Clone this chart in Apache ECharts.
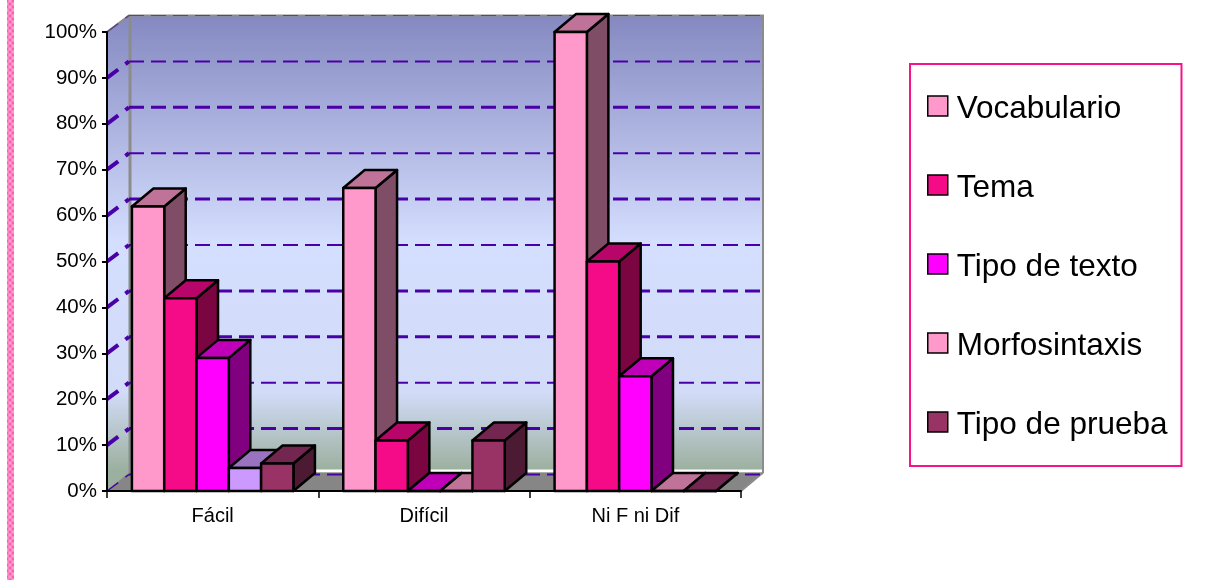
<!DOCTYPE html>
<html>
<head>
<meta charset="utf-8">
<title>Dificultad por aspecto</title>
<style>html,body{margin:0;padding:0;background:#fff}#chart{width:1212px;height:580px}</style>
<script src="https://cdn.jsdelivr.net/npm/echarts@6/dist/echarts.min.js"></script>
</head>
<body>
<div id="chart"></div>
<script>
// Values in percent for each aspect, one per difficulty group
const categories = ['Fácil', 'Difícil', 'Ni F ni Dif'];
const vocabulario = [62, 66, 100];
const tema = [42, 11, 50];
const tipoDeTexto = [29, 0, 25];
const morfosintaxis = [5, 0, 0];
const tipoDePrueba = [6, 11, 0];
const gridValues = [100, 90, 80, 70, 60, 50, 40, 30, 20, 10, 0];
const heavyGridValues = [80, 60, 40, 30, 10];

const FONT = '"Liberation Sans", Arial, sans-serif';
const WALL_DX = 22, WALL_DY = 16.5;   // depth of the chart box
const BAR_W = 32.3, BAR_DX = 21.5, BAR_DY = 18;  // bar front width and extrusion
const SERIES_COUNT = 5;

const faces = {
  pink:    { front: '#ff99cc', top: '#bf7399', side: '#804d66' },
  rose:    { front: '#f50a87', top: '#b8056a', side: '#7a0540' },
  magenta: { front: '#ff00ff', top: '#bf00b8', side: '#800080' },
  lilac:   { front: '#cc99ff', top: '#9973bf', side: '#664d80' },
  wine:    { front: '#993366', top: '#732650', side: '#4d1a33' }
};

const wallFill = {
  type: 'linear', global: true, x: 0, y: 14, x2: 0, y2: 470,
  colorStops: [
    { offset: 0, color: '#8488c0' },
    { offset: 0.5, color: '#d4defe' },
    { offset: 0.83, color: '#d2dcf8' },
    { offset: 1, color: '#9cb09f' }
  ]
};

function poly(points, fill, stroke, width) {
  return {
    type: 'polygon',
    shape: { points },
    style: { fill, stroke: stroke || null, lineWidth: width || 0, lineJoin: 'round' }
  };
}

// Back wall, side wall and floor of the box
function renderBox(params, api) {
  const cs = params.coordSys;
  const x0 = cs.x, x1 = cs.x + cs.width;
  const yTop = api.coord([0, 100])[1], yBase = api.coord([0, 0])[1];
  const bx0 = x0 + WALL_DX, bx1 = x1 + WALL_DX;
  const byTop = yTop - WALL_DY, byBase = yBase - WALL_DY;
  const edge = '#8c8c8c';
  return {
    type: 'group',
    children: [
      poly([[x0, yTop], [bx0, byTop], [bx0, byBase], [x0, yBase]], wallFill),
      poly([[bx0, byTop], [bx1, byTop], [bx1, byBase], [bx0, byBase]], wallFill),
      { type: 'rect', shape: { x: bx0, y: byBase - 5, width: bx1 - bx0, height: 3 }, style: { fill: '#ffffff' } },
      poly([[x0, yBase], [bx0, byBase - 2], [bx1, byBase - 2], [x1, yBase]], '#868686'),
      { type: 'polyline', shape: { points: [[x0, yTop], [bx0, byTop], [bx1, byTop], [bx1, byBase - 2], [x1, yBase]] },
        style: { stroke: edge, lineWidth: 2, fill: null } },
      { type: 'line', shape: { x1: bx0 + 1, y1: byTop, x2: bx0 + 1, y2: byBase }, style: { stroke: edge, lineWidth: 3 } }
    ]
  };
}

// Dashed grid line running along the side wall and across the back wall
function renderGridLine(params, api) {
  const cs = params.coordSys;
  const v = api.value(1);
  const y = api.coord([0, v])[1];
  const x0 = cs.x, x1 = cs.x + cs.width;
  const bx0 = x0 + WALL_DX, bx1 = x1 + WALL_DX, by = y - WALL_DY;
  const heavy = heavyGridValues.indexOf(v) >= 0;
  const edgeLine = v === 0 || v === 100;
  const color = v === 100 ? '#5b3f92' : '#4a00a8';
  return {
    type: 'group',
    children: [
      { type: 'line', shape: { x1: x0, y1: y, x2: bx0, y2: by },
        style: { stroke: color, lineWidth: edgeLine ? 1.5 : 4, lineDash: [14, 9] } },
      { type: 'line', shape: { x1: bx0, y1: by, x2: bx1, y2: by },
        style: { stroke: color, lineWidth: heavy ? 3 : (v === 100 ? 1 : 2), lineDash: [15, 7] } }
    ]
  };
}

// One extruded bar: side and top faces sit behind the front face
function barRenderer(order, palette, overrides) {
  return function (params, api) {
    const c = api.value(0), v = api.value(1);
    const band = api.size([1, 0])[0];
    const center = api.coord([c, 0])[0];
    const left = center - band / 2 + (band - BAR_W * SERIES_COUNT) / 2 + BAR_W * order;
    const right = left + BAR_W;
    const yTop = api.coord([c, v])[1], yBase = api.coord([c, 0])[1];
    const f = (overrides && overrides[params.dataIndex]) || palette;
    const sw = 2.5;
    return {
      type: 'group',
      children: [
        poly([[right, yBase], [right + BAR_DX, yBase - BAR_DY], [right + BAR_DX, yTop - BAR_DY], [right, yTop]], f.side, '#000', sw),
        poly([[left, yTop], [left + BAR_DX, yTop - BAR_DY], [right + BAR_DX, yTop - BAR_DY], [right, yTop]], f.top, '#000', sw),
        poly([[left, yBase], [left, yTop], [right, yTop], [right, yBase]], f.front, '#000', sw)
      ]
    };
  };
}

function barSeries(name, values, order, palette, overrides) {
  return {
    name, type: 'custom', coordinateSystem: 'cartesian2d', z: 4 + order, clip: false, silent: true,
    encode: { x: 0, y: 1 },
    renderItem: barRenderer(order, palette, overrides),
    data: values.map((v, i) => [i, v])
  };
}

// Woven pink texture for the page-edge stripe
function stripePattern() {
  const size = 6, c = document.createElement('canvas');
  c.width = c.height = size;
  const g = c.getContext('2d');
  g.fillStyle = '#ff82c4';
  g.fillRect(0, 0, size, size);
  g.fillStyle = '#ff5cb0';
  g.fillRect(0, 0, 2, 2);
  g.fillRect(3, 3, 2, 2);
  g.fillStyle = '#ff9ed2';
  g.fillRect(3, 0, 2, 2);
  g.fillRect(0, 3, 2, 2);
  return { image: c, repeat: 'repeat' };
}

const legendSwatch = (name, color) => ({ name, itemStyle: { color, borderColor: '#000', borderWidth: 1.5 } });

const option = {
  animation: false,
  backgroundColor: '#ffffff',
  textStyle: { fontFamily: FONT },
  grid: { left: 107, top: 32, width: 634, height: 459 },
  xAxis: {
    type: 'category', data: categories, z: 12,
    axisLine: { lineStyle: { color: '#000', width: 2 } },
    axisTick: { show: true, interval: 0, alignWithLabel: false, length: 7, lineStyle: { color: '#000', width: 1.5 } },
    axisLabel: { color: '#000', fontSize: 20, fontFamily: FONT, margin: 15 },
    splitLine: { show: false }
  },
  yAxis: {
    type: 'value', min: 0, max: 100, interval: 10, z: 12,
    axisLine: { show: true, lineStyle: { color: '#000', width: 2 } },
    axisTick: { show: true, length: 5, lineStyle: { color: '#000', width: 2 } },
    axisLabel: { color: '#000', fontSize: 20.5, fontFamily: FONT, margin: 10, formatter: '{value}%' },
    splitLine: { show: false }
  },
  legend: {
    orient: 'vertical', left: 910, top: 64,
    icon: 'rect', itemWidth: 20, itemHeight: 20, itemGap: 41,
    padding: [23, 14, 25, 17],
    borderColor: '#f5148c', borderWidth: 2, backgroundColor: '#fff',
    selectedMode: false,
    formatter: '{t|{name}}',
    textStyle: {
      color: '#000', fontSize: 31.5, fontFamily: FONT,
      rich: { t: { color: '#000', fontSize: 31.5, fontFamily: FONT, padding: [6, 0, 0, 4], lineHeight: 32 } }
    },
    data: [
      legendSwatch('Vocabulario', faces.pink.front),
      legendSwatch('Tema', faces.rose.front),
      legendSwatch('Tipo de texto', faces.magenta.front),
      legendSwatch('Morfosintaxis', faces.pink.front),
      legendSwatch('Tipo de prueba', faces.wine.front)
    ]
  },
  graphic: [{
    type: 'rect', silent: true, z: 20,
    shape: { x: 7, y: 0, width: 7, height: 580 },
    style: { fill: stripePattern() }
  }],
  series: [
    { name: 'caja', type: 'custom', coordinateSystem: 'cartesian2d', z: 1, clip: false, silent: true,
      encode: { x: 0, y: 1 }, renderItem: renderBox, data: [[0, 0]] },
    { name: 'rejilla', type: 'custom', coordinateSystem: 'cartesian2d', z: 2, clip: false, silent: true,
      encode: { x: 0, y: 1 }, renderItem: renderGridLine, data: gridValues.map(v => [0, v]) },
    barSeries('Vocabulario', vocabulario, 0, faces.pink),
    barSeries('Tema', tema, 1, faces.rose),
    barSeries('Tipo de texto', tipoDeTexto, 2, faces.magenta),
    barSeries('Morfosintaxis', morfosintaxis, 3, faces.pink, { 0: faces.lilac }),
    barSeries('Tipo de prueba', tipoDePrueba, 4, faces.wine)
  ]
};

echarts.init(document.getElementById('chart'), null, { renderer: 'canvas' }).setOption(option);
</script>
</body>
</html>
